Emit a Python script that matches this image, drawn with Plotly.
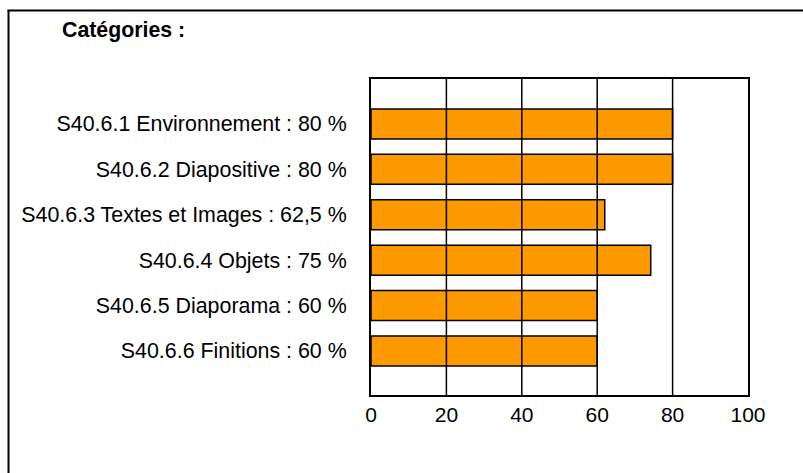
import plotly.graph_objects as go

categories = [
    "S40.6.1 Environnement : 80 %",
    "S40.6.2 Diapositive : 80 %",
    "S40.6.3 Textes et Images : 62,5 %",
    "S40.6.4 Objets : 75 %",
    "S40.6.5 Diaporama : 60 %",
    "S40.6.6 Finitions : 60 %",
]
values = [80, 80, 62, 74.2, 60, 60]
x_ticks = [0, 20, 40, 60, 80, 100]
title_text = "<b>Catégories :</b>"

W, H = 803, 473
ML, MR, MT, MB = 371, 55, 79, 78
pw, ph = W - ML - MR, H - MT - MB

pos = list(range(len(categories)))

fig = go.Figure(go.Bar(
    y=pos, x=values, orientation="h", width=0.66,
    marker=dict(color="#FF9900", line=dict(color="black", width=1.5)),
    hoverinfo="x+y",
))

shapes = []
for t in x_ticks[1:-1]:
    shapes.append(dict(type="line", xref="x", yref="paper", x0=t, x1=t, y0=0, y1=1,
                       line=dict(color="black", width=1.5), layer="above"))

def px_to_paper_x(px):
    return (px - ML) / pw

def px_to_paper_y(py):
    return (H - MB - py) / ph

# outer frame (left + top edges)
shapes.append(dict(type="line", xref="paper", yref="paper",
                   x0=px_to_paper_x(8.5), x1=px_to_paper_x(8.5),
                   y0=px_to_paper_y(10), y1=px_to_paper_y(480),
                   line=dict(color="black", width=2)))
shapes.append(dict(type="line", xref="paper", yref="paper",
                   x0=px_to_paper_x(7.5), x1=px_to_paper_x(810),
                   y0=px_to_paper_y(10.5), y1=px_to_paper_y(10.5),
                   line=dict(color="black", width=2)))

font = "Liberation Sans, Arial, sans-serif"

fig.update_layout(
    width=W, height=H,
    margin=dict(l=ML, r=MR, t=MT, b=MB, pad=0),
    paper_bgcolor="white", plot_bgcolor="white",
    showlegend=False,
    font=dict(family=font, size=21, color="black"),
    title=dict(text=title_text, x=62 / W, xanchor="left", xref="container",
               y=1 - 30 / H, yanchor="middle", font=dict(size=21.3, family=font, color="black")),
    xaxis=dict(range=[0, 100], tickvals=x_ticks, ticktext=[str(t) for t in x_ticks],
               showgrid=False, zeroline=False, showline=True, linecolor="black", linewidth=2,
               mirror=True, ticks="", tickfont=dict(size=21), fixedrange=True),
    yaxis=dict(range=[5.97, -0.99], tickvals=pos, ticktext=categories,
               showgrid=False, zeroline=False, showline=True, linecolor="black", linewidth=2,
               mirror=True, ticks="", ticklabelstandoff=18, tickfont=dict(size=21.4), fixedrange=True),
    shapes=shapes,
)

fig.write_html("out.html", config={"displayModeBar": False},
               post_script="document.body.style.margin='0';document.body.style.overflow='hidden';")
